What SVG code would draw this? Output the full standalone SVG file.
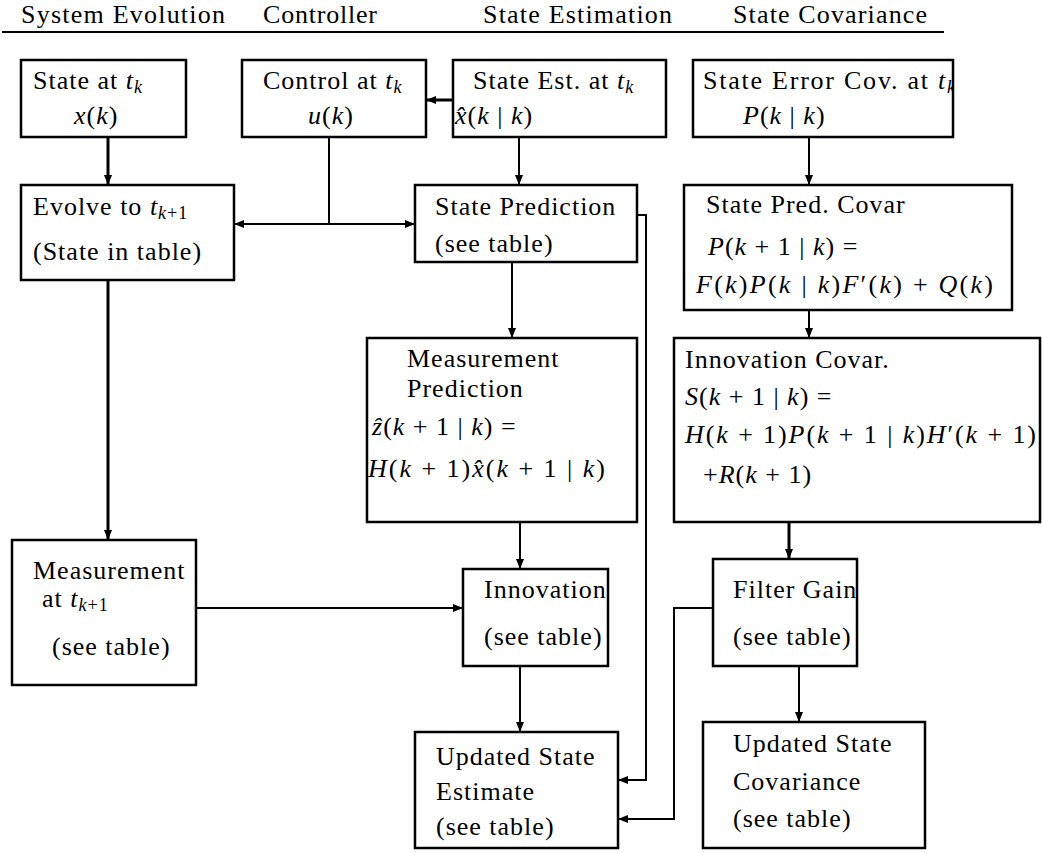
<svg xmlns="http://www.w3.org/2000/svg" width="1042" height="853" viewBox="0 0 1042 853">
<style>
.m{font-style:italic}
.s{font-size:18px;font-style:italic}
.sn{font-size:18px;font-style:normal}
.box{fill:none;stroke:#000;stroke-width:2.5}
.c{fill:none;stroke:#000;stroke-width:2}
.ct{fill:none;stroke:#000;stroke-width:3}
</style>
<defs>
<marker id="a" viewBox="0 0 10 8" refX="10" refY="4" markerWidth="10" markerHeight="8" markerUnits="userSpaceOnUse" orient="auto"><path d="M0,0 L10,4 L0,8 z" fill="#000"/></marker>
<clipPath id="cp"><rect x="693" y="58" width="260" height="80"/></clipPath>
</defs>
<g font-family="Liberation Serif, serif" font-size="26" letter-spacing="1" fill="#000">
<g id="header">
<text x="21" y="23" textLength="205">System Evolution</text>
<text x="263" y="23" textLength="115">Controller</text>
<text x="483" y="23" textLength="190">State Estimation</text>
<text x="733" y="23" textLength="195">State Covariance</text>
<line x1="2" y1="32" x2="944" y2="32" stroke="#000" stroke-width="2"/>
</g>
<g id="connectors">
<path class="ct" d="M108,137 V185" marker-end="url(#a)"/>
<path class="ct" d="M453,100 H426" marker-end="url(#a)"/>
<path class="c" d="M329,137 V224"/>
<path class="c" d="M329,224 H234" marker-end="url(#a)"/>
<path class="c" d="M329,224 H415" marker-end="url(#a)"/>
<path class="c" d="M519,137 V185" marker-end="url(#a)"/>
<path class="c" d="M512,262 V338" marker-end="url(#a)"/>
<path class="c" d="M637,215 H646 V780 H618" marker-end="url(#a)"/>
<path class="c" d="M809,137 V185" marker-end="url(#a)"/>
<path class="c" d="M809,310 V338" marker-end="url(#a)"/>
<path class="ct" d="M789,522 V559" marker-end="url(#a)"/>
<path class="c" d="M520,522 V569" marker-end="url(#a)"/>
<path class="c" d="M196,608 H463" marker-end="url(#a)"/>
<path class="ct" d="M108,280 V540" marker-end="url(#a)"/>
<path class="c" d="M520,666 V732" marker-end="url(#a)"/>
<path class="c" d="M713,608 H674 V819 H618" marker-end="url(#a)"/>
<path class="c" d="M799,666 V722" marker-end="url(#a)"/>
</g>
<g id="state">
<rect class="box" x="21" y="60" width="165" height="77"/>
<text x="33" y="89">State at <tspan class="m">t</tspan><tspan class="s" dy="4">k</tspan></text>
<text x="74" y="124"><tspan class="m">x</tspan>(<tspan class="m">k</tspan>)</text>
</g>
<g id="control">
<rect class="box" x="242" y="60" width="184" height="77"/>
<text x="263" y="89">Control at <tspan class="m">t</tspan><tspan class="s" dy="4">k</tspan></text>
<text x="308" y="124"><tspan class="m">u</tspan>(<tspan class="m">k</tspan>)</text>
</g>
<g id="stateest">
<rect class="box" x="453" y="60" width="213" height="77"/>
<text x="473" y="89">State Est. at <tspan class="m">t</tspan><tspan class="s" dy="4">k</tspan></text>
<text x="455" y="124"><tspan class="m">x̂</tspan>(<tspan class="m">k</tspan> | <tspan class="m">k</tspan>)</text>
</g>
<g id="errcov">
<rect class="box" x="693" y="60" width="260" height="77"/>
<text x="703" y="89" clip-path="url(#cp)" textLength="253">State Error Cov. at <tspan class="m">t</tspan><tspan class="s" dy="4">k</tspan></text>
<text x="743" y="124"><tspan class="m">P</tspan>(<tspan class="m">k</tspan> | <tspan class="m">k</tspan>)</text>
</g>
<g id="evolve">
<rect class="box" x="21" y="185" width="213" height="95"/>
<text x="33" y="215">Evolve to <tspan class="m">t</tspan><tspan class="s" dy="4">k</tspan><tspan class="sn">+1</tspan></text>
<text x="33" y="260">(State in table)</text>
</g>
<g id="statepred">
<rect class="box" x="415" y="185" width="222" height="77"/>
<text x="435" y="215">State Prediction</text>
<text x="435" y="252">(see table)</text>
</g>
<g id="predcovar">
<rect class="box" x="684" y="185" width="328" height="125"/>
<text x="706" y="213">State Pred. Covar</text>
<text x="708" y="255"><tspan class="m">P</tspan>(<tspan class="m">k</tspan> + 1 | <tspan class="m">k</tspan>) =</text>
<text x="696" y="293" textLength="298"><tspan class="m">F</tspan>(<tspan class="m">k</tspan>)<tspan class="m">P</tspan>(<tspan class="m">k</tspan> | <tspan class="m">k</tspan>)<tspan class="m">F</tspan>′(<tspan class="m">k</tspan>) + <tspan class="m">Q</tspan>(<tspan class="m">k</tspan>)</text>
</g>
<g id="measpred">
<rect class="box" x="367" y="338" width="270" height="184"/>
<text x="407" y="367">Measurement</text>
<text x="407" y="397">Prediction</text>
<text x="372" y="435"><tspan class="m">ẑ</tspan>(<tspan class="m">k</tspan> + 1 | <tspan class="m">k</tspan>) =</text>
<text x="368" y="477" textLength="238"><tspan class="m">H</tspan>(<tspan class="m">k</tspan> + 1)<tspan class="m">x̂</tspan>(<tspan class="m">k</tspan> + 1 | <tspan class="m">k</tspan>)</text>
</g>
<g id="innovcovar">
<rect class="box" x="674" y="338" width="366" height="184"/>
<text x="685" y="368">Innovation Covar.</text>
<text x="685" y="405"><tspan class="m">S</tspan>(<tspan class="m">k</tspan> + 1 | <tspan class="m">k</tspan>) =</text>
<text x="685" y="443" textLength="352"><tspan class="m">H</tspan>(<tspan class="m">k</tspan> + 1)<tspan class="m">P</tspan>(<tspan class="m">k</tspan> + 1 | <tspan class="m">k</tspan>)<tspan class="m">H</tspan>′(<tspan class="m">k</tspan> + 1)</text>
<text x="703" y="483">+<tspan class="m">R</tspan>(<tspan class="m">k</tspan> + 1)</text>
</g>
<g id="measurement">
<rect class="box" x="12" y="540" width="184" height="145"/>
<text x="33" y="579">Measurement</text>
<text x="42" y="607">at <tspan class="m">t</tspan><tspan class="s" dy="4">k</tspan><tspan class="sn">+1</tspan></text>
<text x="52" y="655">(see table)</text>
</g>
<g id="innovation">
<rect class="box" x="463" y="569" width="145" height="97"/>
<text x="484" y="598">Innovation</text>
<text x="484" y="645">(see table)</text>
</g>
<g id="filtergain">
<rect class="box" x="713" y="559" width="144" height="107"/>
<text x="733" y="598">Filter Gain</text>
<text x="733" y="645">(see table)</text>
</g>
<g id="updest">
<rect class="box" x="415" y="732" width="203" height="116"/>
<text x="436" y="765">Updated State</text>
<text x="436" y="800">Estimate</text>
<text x="436" y="835">(see table)</text>
</g>
<g id="updcov">
<rect class="box" x="703" y="722" width="222" height="126"/>
<text x="733" y="752">Updated State</text>
<text x="733" y="790">Covariance</text>
<text x="733" y="827">(see table)</text>
</g>
</g>
</svg>
